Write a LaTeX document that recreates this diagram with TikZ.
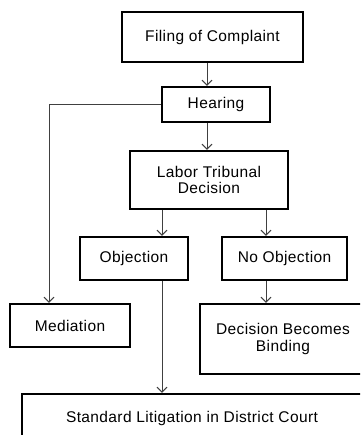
\documentclass[tikz,border=0pt]{standalone}
\usepackage{fontspec}
\setmainfont{Liberation Sans}[LetterSpace=2.5]
\usetikzlibrary{arrows.meta}
\begin{document}
\begin{tikzpicture}[x=1pt,y=-1pt,
    box/.style={draw,line width=2.2pt,inner sep=0pt,align=center,font=\fontsize{15.5}{16.5}\selectfont},
    flow/.style={draw=black!75,line width=1pt,-{Straight Barb[length=5pt,width=10pt]}}]
                \clip (0,0) rectangle (360,435);
                \node[box,minimum width=181pt,minimum height=50pt] (F) at (212.5,37) {Filing of Complaint};
                \node[box,minimum width=108pt,minimum height=35pt] (H) at (216,104.5) {Hearing};
                \node[box,minimum width=158pt,minimum height=58pt] (L) at (209,180) {Labor Tribunal\\Decision};
                \node[box,minimum width=108pt,minimum height=43pt] (O) at (134,258.5) {Objection};
                \node[box,minimum width=125pt,minimum height=43pt] (N) at (284.5,258.5) {No Objection};
                \node[box,minimum width=120pt,minimum height=43pt] (M) at (70,325.5) {Mediation};
                \node[box,minimum width=166pt,minimum height=70pt] (D) at (283,339) {Decision Becomes\\Binding};
                \node[box,minimum width=340pt,minimum height=48pt] (S) at (192,418) {Standard Litigation in District Court};
                \draw[flow] (207,0 |- F.south) -- (207,0 |- H.north);
                \draw[flow] (207,0 |- H.south) -- (207,0 |- L.north);
                \draw[flow] (H.west) -| (49,0 |- M.north);
                \draw[flow] (162,0 |- L.south) -- (162,0 |- O.north);
                \draw[flow] (266,0 |- L.south) -- (266,0 |- N.north);
                \draw[flow] (162,0 |- O.south) -- (162,0 |- S.north);
                \draw[flow] (266,0 |- N.south) -- (266,0 |- D.north);
            \end{tikzpicture}
\end{document}
